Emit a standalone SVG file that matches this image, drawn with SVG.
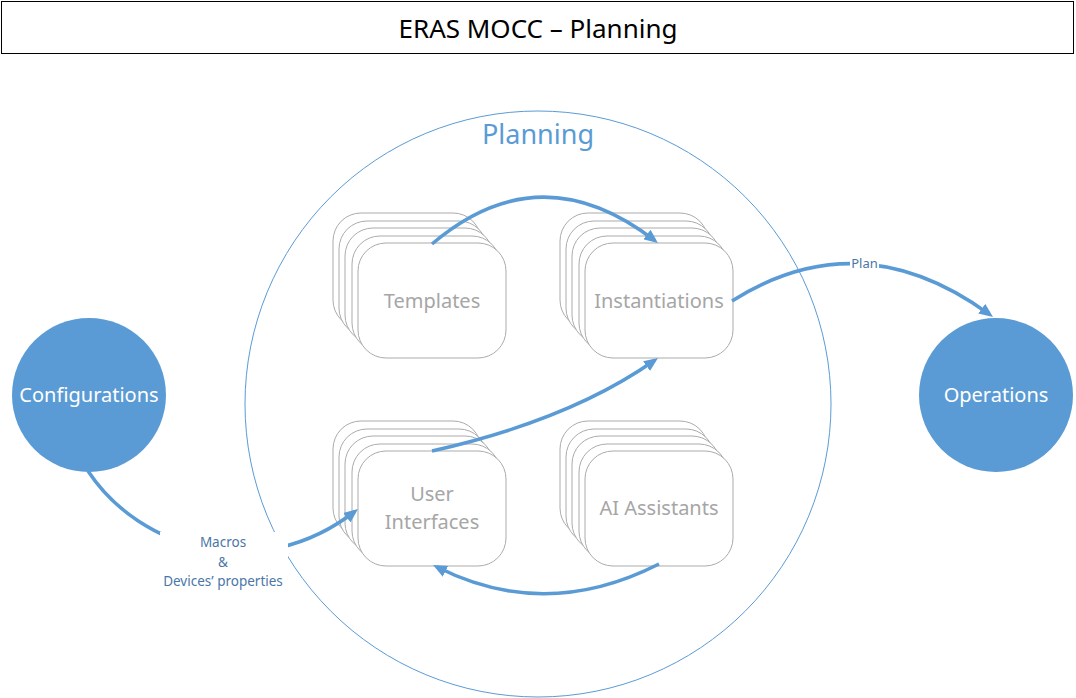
<svg xmlns="http://www.w3.org/2000/svg" width="1076" height="698" viewBox="0 0 1076 698">
<style>
text{font-family:"Noto Sans","Open Sans","DejaVu Sans",sans-serif;text-anchor:middle}
.card{fill:#fff;stroke:#ababab;stroke-width:1}
.ct{fill:#a6a6a6;font-size:20px}
.bc{fill:#5b9bd5}
.bt{fill:#fff;font-size:20px}
.conn{fill:none;stroke:#5b9bd5;stroke-width:3.5}
.lbl{fill:#4a76a8;font-size:13.5px}
</style>
<defs>
<marker id="ah" viewBox="0 0 14 12" markerWidth="14" markerHeight="12" refX="10" refY="6" orient="auto" markerUnits="userSpaceOnUse">
<path d="M0,0 L14,6 L0,12 z" fill="#5b9bd5"/>
</marker>
<g id="stack">
<rect class="card" x="-25" y="-30" width="148" height="115" rx="28"/>
<rect class="card" x="-19" y="-22" width="148" height="115" rx="28"/>
<rect class="card" x="-13" y="-15" width="148" height="115" rx="28"/>
<rect class="card" x="-6" y="-7" width="148" height="115" rx="28"/>
<rect class="card" x="0" y="0" width="148" height="115" rx="28"/>
</g>
</defs>
<g id="title">
<rect x="1.5" y="1.5" width="1072" height="52" fill="#fff" stroke="#000" stroke-width="1"/>
<text x="538" y="38" style="font-size:26px" fill="#000">ERAS MOCC – Planning</text>
</g>
<g id="planning">
<circle cx="538" cy="404" r="293" fill="none" stroke="#5b9bd5" stroke-width="1"/>
<text x="538" y="144" style="font-size:27px" fill="#5b9bd5">Planning</text>
</g>
<g id="templates">
<use href="#stack" x="358" y="243"/>
<text class="ct" x="432" y="308">Templates</text>
</g>
<g id="instantiations">
<use href="#stack" x="585" y="243"/>
<text class="ct" x="659" y="308">Instantiations</text>
</g>
<g id="user-interfaces">
<use href="#stack" x="358" y="451"/>
<text class="ct" x="432" y="501">User</text>
<text class="ct" x="432" y="529">Interfaces</text>
</g>
<g id="ai-assistants">
<use href="#stack" x="585" y="451"/>
<text class="ct" x="659" y="515">AI Assistants</text>
</g>
<g id="configurations">
<circle class="bc" cx="89" cy="395" r="77"/>
<text class="bt" x="89" y="402">Configurations</text>
</g>
<g id="operations">
<circle class="bc" cx="996" cy="395" r="77"/>
<text class="bt" x="996" y="402">Operations</text>
</g>
<g id="connectors">
<path class="conn" d="M432,244 Q540,152 654.8,240.6" marker-end="url(#ah)"/>
<path class="conn" d="M732,301 Q860,220 989.8,314.6" marker-end="url(#ah)"/>
<path class="conn" d="M432,451 Q570,420 654.7,360.3" marker-end="url(#ah)"/>
<path class="conn" d="M88,471 C140,550 260,585 354.8,511.5" marker-end="url(#ah)"/>
<path class="conn" d="M659,564 Q545,622 436.6,566.8" marker-end="url(#ah)"/>
<rect x="850" y="254" width="29" height="18" fill="#fff"/>
<text class="lbl" x="864.5" y="268" style="font-size:13px">Plan</text>
<rect x="160" y="532" width="128" height="60" fill="#fff"/>
<text class="lbl" x="223" y="547">Macros</text>
<text class="lbl" x="223" y="567">&amp;</text>
<text class="lbl" x="223" y="586">Devices’ properties</text>
</g>
</svg>
